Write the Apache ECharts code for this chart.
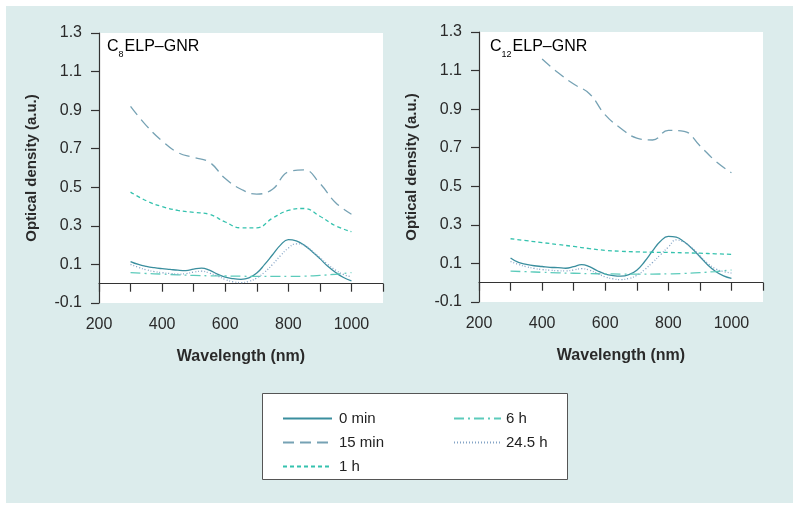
<!DOCTYPE html>
<html>
<head>
<meta charset="utf-8">
<script src="https://cdn.jsdelivr.net/npm/echarts@6/dist/echarts.min.js"></script>
<style>
  html, body { margin: 0; padding: 0; background: #fff; }
  #chart { width: 800px; height: 510px; }
</style>
</head>
<body>
<div id="chart"></div>
<script>
// wavelength grids (nm)
var wlCoarse = [300, 350, 400, 450, 500, 550, 600, 650, 700, 750, 800, 850, 900, 950, 1000];
var wlFine = [300, 325, 350, 375, 400, 425, 450, 475, 500, 525, 550, 575, 600, 625, 650, 675,
  700, 725, 750, 775, 800, 825, 850, 875, 900, 925, 950, 975, 1000];

var seriesNames = ['0 min', '15 min', '1 h', '6 h', '24.5 h'];

// C8ELP-GNR (left panel)
var c8_0min = [0.115, 0.10, 0.09, 0.083, 0.078, 0.074, 0.07, 0.068, 0.076, 0.081, 0.07, 0.05, 0.034, 0.026, 0.023, 0.03,
  0.055, 0.10, 0.15, 0.20, 0.229, 0.222, 0.2, 0.167, 0.13, 0.09, 0.058, 0.032, 0.015];
var c8_15min = [0.92, 0.82, 0.74, 0.68, 0.655, 0.63, 0.545, 0.49, 0.465, 0.49, 0.58, 0.59, 0.52, 0.42, 0.36];
var c8_1h = [0.475, 0.43, 0.40, 0.38, 0.37, 0.36, 0.32, 0.29, 0.29, 0.34, 0.38, 0.39, 0.35, 0.30, 0.27];
var c8_6h = [0.057, 0.053, 0.05, 0.046, 0.043, 0.041, 0.04, 0.039, 0.038, 0.038, 0.038, 0.039, 0.043, 0.049, 0.058];
var c8_24h = [0.10, 0.085, 0.072, 0.063, 0.057, 0.053, 0.05, 0.052, 0.06, 0.065, 0.055, 0.04, 0.022, 0.01, 0.006, 0.012,
  0.03, 0.06, 0.10, 0.145, 0.185, 0.207, 0.20, 0.17, 0.135, 0.10, 0.07, 0.048, 0.035];

// C12ELP-GNR (right panel)
var c12_0min = [0.128, 0.105, 0.095, 0.088, 0.084, 0.08, 0.078, 0.075, 0.083, 0.094, 0.083, 0.062, 0.045, 0.037, 0.034, 0.042,
  0.065, 0.11, 0.165, 0.215, 0.24, 0.236, 0.212, 0.177, 0.135, 0.092, 0.058, 0.035, 0.022];
var c12_15min = [null, null, 1.16, 1.09, 1.03, 0.98, 0.87, 0.80, 0.75, 0.74, 0.79, 0.785, 0.71, 0.63, 0.57];
var c12_1h = [0.228, 0.218, 0.208, 0.198, 0.188, 0.177, 0.168, 0.163, 0.16, 0.158, 0.157, 0.155, 0.153, 0.15, 0.147];
var c12_6h = [0.06, 0.057, 0.054, 0.051, 0.049, 0.047, 0.046, 0.045, 0.045, 0.045, 0.046, 0.048, 0.052, 0.058, 0.066];
var c12_24h = [0.11, 0.095, 0.083, 0.074, 0.068, 0.065, 0.062, 0.061, 0.066, 0.073, 0.065, 0.048, 0.03, 0.02, 0.016, 0.022,
  0.038, 0.068, 0.105, 0.145, 0.185, 0.222, 0.21, 0.18, 0.14, 0.10, 0.072, 0.058, 0.05];

// tick labels
var xLabelValues = [200, 400, 600, 800, 1000];
var xTickValues = [200, 300, 400, 500, 600, 700, 800, 900, 1000, 1100];
var yTickValues = [-0.1, 0.1, 0.3, 0.5, 0.7, 0.9, 1.1, 1.3];

var FONT = '"Liberation Sans", Arial, Helvetica, sans-serif';
var styles = {
  '0 min': { color: '#3a8e9e', type: 'solid' },
  '15 min': { color: '#76a2b4', type: [11, 6] },
  '1 h': { color: '#35c2ae', type: [4, 3] },
  '6 h': { color: '#5ccbbb', type: [10, 4, 2, 4] },
  '24.5 h': { color: '#84a4c6', type: [1, 2] }
};

function pairs(wl, vals) {
  return wl.map(function (w, i) { return [w, vals[i]]; });
}

function makeSeries(idx, name, wl, vals) {
  var s = styles[name];
  return {
    name: name,
    type: 'line',
    xAxisIndex: idx,
    yAxisIndex: idx,
    data: pairs(wl, vals),
    smooth: 0.45,
    symbol: 'none',
    connectNulls: false,
    itemStyle: { color: s.color },
    lineStyle: { color: s.color, width: 1.3, type: s.type }
  };
}

function xAxis(idx) {
  return {
    type: 'value', gridIndex: idx, min: 200, max: 1100,
    name: 'Wavelength (nm)', nameLocation: 'middle', nameGap: 46,
    nameTextStyle: { fontFamily: FONT, fontWeight: 'bold', fontSize: 16, color: '#2a2a2a' },
    axisLine: { lineStyle: { color: '#333', width: 1.2 } },
    axisTick: { length: 8, customValues: xTickValues, lineStyle: { color: '#333', width: 1.2 } },
    axisLabel: {
      customValues: xLabelValues, margin: 14, fontFamily: FONT, fontSize: 16, color: '#2a2a2a',
      formatter: function (v) { return String(v); }
    },
    splitLine: { show: false }
  };
}

function yAxis(idx) {
  return {
    type: 'value', gridIndex: idx, min: -0.1, max: 1.3,
    name: 'Optical density (a.u.)', nameLocation: 'middle', nameGap: 60,
    nameTextStyle: { fontFamily: FONT, fontWeight: 'bold', fontSize: 15, color: '#2a2a2a' },
    axisLine: { show: true, lineStyle: { color: '#333', width: 1.2 } },
    axisTick: { show: true, length: 8, customValues: yTickValues, lineStyle: { color: '#333', width: 1.2 } },
    axisLabel: {
      customValues: yTickValues, margin: 17, fontFamily: FONT, fontSize: 16, color: '#2a2a2a',
      formatter: function (v) { return v.toFixed(1); }
    },
    splitLine: { show: false }
  };
}

var titleRich = {
  a: { fontFamily: FONT, fontSize: 16, color: '#222' },
  b: { fontFamily: FONT, fontSize: 9, color: '#222', verticalAlign: 'bottom', padding: [0, 1, -4, 0] }
};

var chart = echarts.init(document.getElementById('chart'));
chart.setOption({
  backgroundColor: '#fff',
  animation: false,
  graphic: [
    { type: 'rect', z: -10, shape: { x: 6, y: 6, width: 787, height: 497 }, style: { fill: '#dcecec' }, silent: true },
    { type: 'rect', z: 1, shape: { x: 262.5, y: 393.5, width: 305, height: 86 }, style: { fill: '#fff', stroke: '#555', lineWidth: 1 }, silent: true },
    { type: 'text', z: 5, left: 107, top: 39, style: { text: '{a|C}{b|8}{a|ELP–GNR}', rich: titleRich } },
    { type: 'text', z: 5, left: 490, top: 39, style: { text: '{a|C}{b|12}{a|ELP–GNR}', rich: titleRich } }
  ],
  grid: [
    { left: 99, top: 33, width: 284, height: 270, show: true, backgroundColor: '#fff', borderWidth: 0 },
    { left: 479, top: 32, width: 284, height: 270, show: true, backgroundColor: '#fff', borderWidth: 0 }
  ],
  xAxis: [xAxis(0), xAxis(1)],
  yAxis: [yAxis(0), yAxis(1)],
  legend: [
    {
      data: seriesNames.slice(0, 3), orient: 'vertical', left: 277, top: 406, z: 10,
      itemWidth: 49, itemHeight: 14, itemGap: 9, selectedMode: false,
      itemStyle: { opacity: 0 },
      textStyle: { fontFamily: FONT, fontSize: 15, color: '#222', padding: [0, 0, 0, 2] }
    },
    {
      data: seriesNames.slice(3), orient: 'vertical', left: 448, top: 406, z: 10,
      itemWidth: 47, itemHeight: 14, itemGap: 9, selectedMode: false,
      itemStyle: { opacity: 0 },
      textStyle: { fontFamily: FONT, fontSize: 15, color: '#222', padding: [0, 0, 0, 0] }
    }
  ],
  series: [
    makeSeries(0, '0 min', wlFine, c8_0min),
    makeSeries(0, '15 min', wlCoarse, c8_15min),
    makeSeries(0, '1 h', wlCoarse, c8_1h),
    makeSeries(0, '6 h', wlCoarse, c8_6h),
    makeSeries(0, '24.5 h', wlFine, c8_24h),
    makeSeries(1, '0 min', wlFine, c12_0min),
    makeSeries(1, '15 min', wlCoarse, c12_15min),
    makeSeries(1, '1 h', wlCoarse, c12_1h),
    makeSeries(1, '6 h', wlCoarse, c12_6h),
    makeSeries(1, '24.5 h', wlFine, c12_24h)
  ]
});
window.onresize = function () { chart.resize(); };
</script>
</body>
</html>
